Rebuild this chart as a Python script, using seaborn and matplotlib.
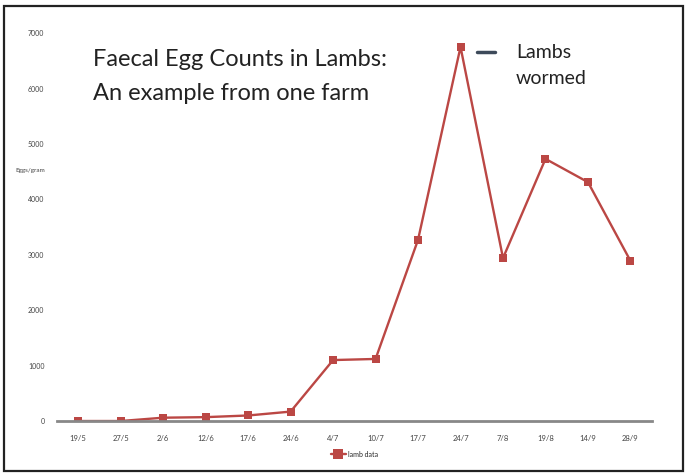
import matplotlib
matplotlib.use("Agg")
import matplotlib.pyplot as plt
import seaborn as sns
import pandas as pd
from matplotlib.patches import Rectangle

dates = ["19/5", "27/5", "2/6", "12/6", "17/6", "24/6", "4/7", "10/7",
         "17/7", "24/7", "7/8", "19/8", "14/9", "28/9"]
eggs = [0, 0, 60, 70, 100, 170, 1100, 1120, 3270, 6750, 2940, 4730, 4310, 2890]
yticks = [0, 1000, 2000, 3000, 4000, 5000, 6000, 7000]

sns.set_theme(style="white")
plt.rcParams['font.family'] = ['Lato', 'DejaVu Sans']

df = pd.DataFrame({"date": dates, "eggs": eggs})

fig = plt.figure(figsize=(6.86, 4.76), dpi=100)
ax = fig.add_axes([0.083, 0.1155, 0.867, 0.815])

color = "#bb4744"
sns.lineplot(data=df, x="date", y="eggs", marker="s", markersize=6,
             markeredgewidth=0, color=color, linewidth=1.7, sort=False,
             label="lamb data", ax=ax)

ax.set_xlim(-0.5, len(dates) - 0.5)
ax.set_ylim(0, 7000)
ax.set_yticks(yticks)
ax.set_yticklabels([str(v) for v in yticks], fontsize=5, color="#444444")
ax.tick_params(axis="x", labelsize=5.5, colors="#444444", length=0, pad=10)
ax.tick_params(axis="y", length=0, pad=9)
ax.set_xlabel("")
ax.set_ylabel("")
for s in ["top", "right", "left"]:
    ax.spines[s].set_visible(False)
ax.spines["bottom"].set_color("#888888")
ax.spines["bottom"].set_linewidth(2)
ax.set_zorder(1)

leg = ax.legend(loc="upper center", bbox_to_anchor=(0.5, -0.06), frameon=False,
                fontsize=5, handlelength=2.2, handletextpad=0.3, markerscale=1.3)

fig.text(30 / 686, 1 - 170 / 476, "Eggs/gram", fontsize=4.5, color="#444444",
         ha="center", va="center")

fig.text(93 / 686, 1 - 60 / 476, "Faecal Egg Counts in Lambs:", fontsize=17,
         color="#222222", ha="left", va="center")
fig.text(93 / 686, 1 - 94 / 476, "An example from one farm", fontsize=17,
         color="#222222", ha="left", va="center")

fig.text(516 / 686, 1 - 52 / 476, "Lambs", fontsize=14, color="#222222",
         ha="left", va="center")
fig.text(516 / 686, 1 - 79 / 476, "wormed", fontsize=14, color="#222222",
         ha="left", va="center")
fig.lines.append(plt.Line2D([477 / 686, 495 / 686], [1 - 52 / 476, 1 - 52 / 476],
                            transform=fig.transFigure, color="#3d4a5a", linewidth=2.5))

fig.patches.append(Rectangle((4 / 686, 5 / 476), 679 / 686, 465 / 476,
                             transform=fig.transFigure, fill=False,
                             edgecolor="#222222", linewidth=1.6))

fig.savefig("out.png", dpi=100)
